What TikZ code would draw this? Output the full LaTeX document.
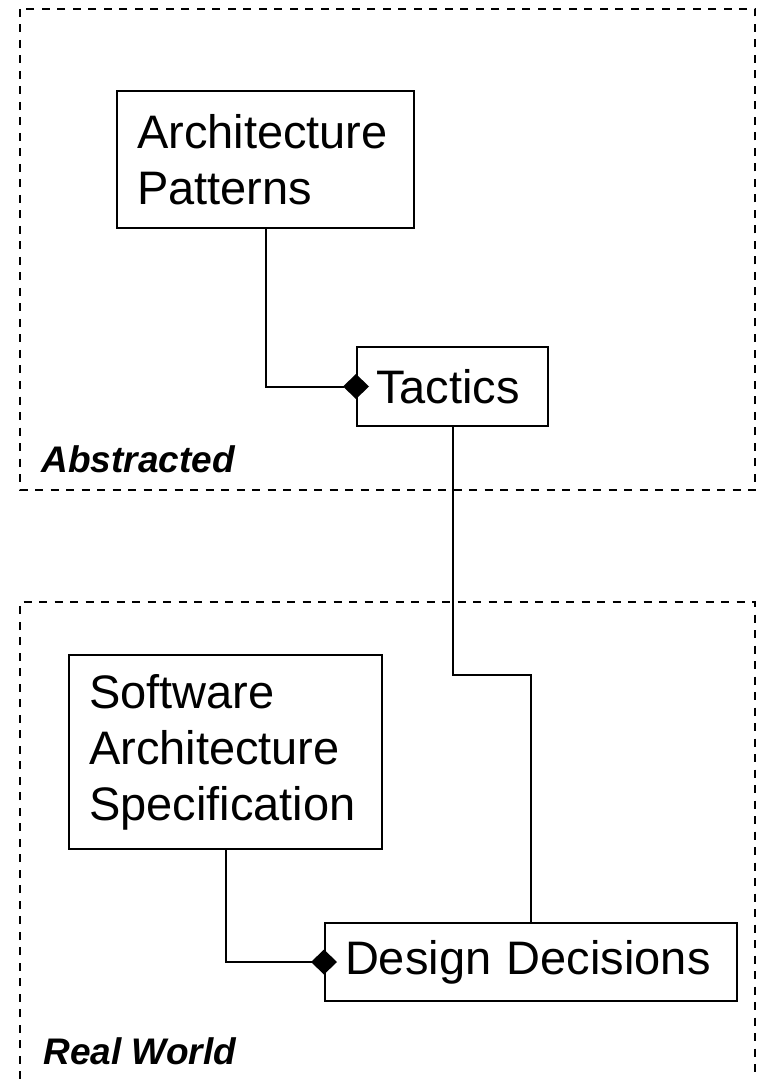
\documentclass[tikz,border=0pt]{standalone}
\usepackage{fontspec}
\setmainfont{Liberation Sans}
\usetikzlibrary{arrows.meta, calc}

\begin{document}
\begin{tikzpicture}[
    x=0.5pt, y=-0.5pt,
    box/.style={rectangle, draw, line width=1pt, anchor=north west, align=left, inner xsep=10pt, inner ysep=2pt, font=\fontsize{23.5pt}{28pt}\selectfont},
    conn/.style={line width=1pt},
    link/.style={conn, -{Diamond[length=13pt, width=12.5pt]}, shorten >=-6.5pt},
    region/.style={draw, line width=1pt, dash pattern=on 4pt off 3.75pt},
    zonelabel/.style={anchor=west, inner sep=0pt, font=\fontsize{18.5pt}{22pt}\selectfont\bfseries\itshape},
]
\useasboundingbox (0,0) rectangle (759,1079);

% the two zones
\draw[region] (20,9) rectangle (755,490);
\draw[region] (20,1079) -- (20,602) -- (755,602) -- (755,1079);
\node[zonelabel] (abstracted) at (41,459) {Abstracted};
\node[zonelabel] (realworld) at (43,1051) {Real World};

% boxes
\node[box, text width=128.5pt, minimum height=68.5pt] (patterns) at (116,90) {Architecture\\Patterns};
\node[box, text width=76.5pt, minimum height=39.5pt, inner xsep=9.5pt] (tactics) at (356,346) {Tactics};
\node[box, text width=136.5pt, minimum height=97pt] (spec) at (68,654) {Software\\Architecture\\Specification};
\node[box, text width=186pt, minimum height=39pt] (decisions) at (324,922) {Design Decisions};

% connectors
\draw[link] (patterns.south) |- (tactics.west);
\draw[link] (spec.south) |- (decisions.west);
\draw[conn] (tactics.south) |- ($(tactics.south)!.5!(decisions.north)$) -| (decisions.north);

\end{tikzpicture}
\end{document}
